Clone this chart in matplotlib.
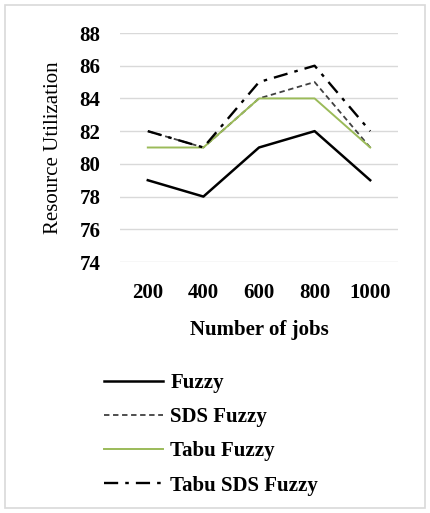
import matplotlib.pyplot as plt
from matplotlib.patches import Rectangle

# data
jobs = ['200', '400', '600', '800', '1000']
fuzzy = [79, 78, 81, 82, 79]
sds_fuzzy = [82, 81, 84, 85, 81]
tabu_fuzzy = [81, 81, 84, 84, 81]
tabu_sds_fuzzy = [82, 81, 85, 86, 82]
y_ticks = [74, 76, 78, 80, 82, 84, 86, 88]

plt.rcParams['font.family'] = ['Liberation Serif', 'DejaVu Serif']

fig = plt.figure(figsize=(4.31, 5.13), dpi=100)
W, H = 431, 513

# outer frame
fig.patches.append(Rectangle((5 / W, 5 / H), 420 / W, 503 / H, transform=fig.transFigure,
                             fill=False, edgecolor='#d9d9d9', linewidth=1.2))

ax = fig.add_axes([120 / W, 1 - 262 / H, 278 / W, 229 / H])
x = range(len(jobs))
l1, = ax.plot(x, fuzzy, color='black', linewidth=1.8, label='Fuzzy')
l2, = ax.plot(x, sds_fuzzy, color='#404040', linewidth=1.3, linestyle=(0, (3, 2)), label='SDS Fuzzy')
l3, = ax.plot(x, tabu_fuzzy, color='#9bbb59', linewidth=1.4, label='Tabu Fuzzy')
l4, = ax.plot(x, tabu_sds_fuzzy, color='black', linewidth=1.7, linestyle=(0, (6, 3, 1.5, 3)), label='Tabu SDS Fuzzy')

ax.set_xlim(-0.5, 4.5)
ax.set_ylim(74, 88)
ax.set_yticks(y_ticks)
ax.set_xticks(list(x))
ax.set_xticklabels(jobs)
ax.grid(axis='y', color='#d9d9d9', linewidth=1)
ax.set_axisbelow(True)
for s in ax.spines.values():
    s.set_visible(False)
ax.tick_params(length=0, labelsize=15, pad=14)
for t in ax.get_xticklabels() + ax.get_yticklabels():
    t.set_fontweight('bold')
ax.tick_params(axis='x', pad=15)

ax.set_xlabel('Number of jobs', fontsize=15, fontweight='bold', labelpad=12)
ax.set_ylabel('Resource Utilization', fontsize=15, labelpad=12)

fig.legend(handles=[l1, l2, l3, l4], loc='upper left', bbox_to_anchor=(104 / W, 1 - 373 / H),
           frameon=False, prop={'weight': 'bold', 'size': 15}, borderaxespad=0, borderpad=0,
           handlelength=2.85, labelspacing=0.68, handletextpad=0.34)

fig.savefig('out.png', dpi=100)
